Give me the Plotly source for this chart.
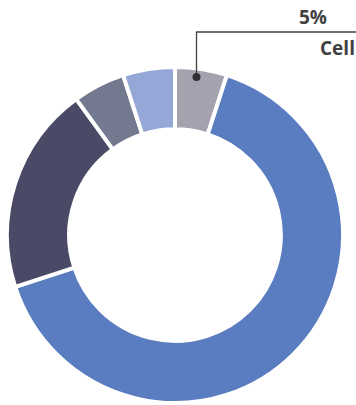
import plotly.graph_objects as go

labels = ["Cell", "Segment B", "Segment C", "Segment D", "Segment E"]
values = [5, 65, 20, 5, 5]
colors = ["#a5a1ae", "#5a7cc0", "#4a4a67", "#737a8f", "#94a7d6"]

W, H = 356, 405
cx, cy, R = 175, 235, 168

fig = go.Figure(go.Pie(
    labels=labels, values=values, sort=False, direction="clockwise", rotation=0,
    hole=0.63, textinfo="none", hoverinfo="label+percent",
    marker=dict(colors=colors, line=dict(color="white", width=4)),
    domain=dict(x=[(cx - R) / W, (cx + R) / W], y=[(H - cy - R) / H, (H - cy + R) / H]),
    showlegend=False,
))

def px(x):
    return x / W

def py(y):
    return 1 - y / H

fig.add_shape(type="line", xref="paper", yref="paper",
              x0=px(196.5), y0=py(77), x1=px(196.5), y1=py(32),
              line=dict(color="#404040", width=1.3))
fig.add_shape(type="line", xref="paper", yref="paper",
              x0=px(196), y0=py(32), x1=px(360), y1=py(32),
              line=dict(color="#404040", width=1.3))
fig.add_shape(type="circle", xref="paper", yref="paper",
              x0=px(192.5), y0=py(73), x1=px(200.5), y1=py(81),
              fillcolor="#303030", line=dict(width=0))

fig.add_annotation(x=px(313), y=py(17), xref="paper", yref="paper",
                   xanchor="center", yanchor="middle",
                   text=f"<b>{values[0]}%</b>", showarrow=False,
                   font=dict(family="Open Sans", size=19, color="#404040"))
fig.add_annotation(x=px(337), y=py(48), xref="paper", yref="paper",
                   xanchor="center", yanchor="middle",
                   text=f"<b>{labels[0]}</b>", showarrow=False,
                   font=dict(family="Open Sans", size=19, color="#404040"))

fig.update_layout(width=W, height=H, margin=dict(l=0, r=0, t=0, b=0),
                  paper_bgcolor="white", plot_bgcolor="white")
fig.write_html("out.html")
